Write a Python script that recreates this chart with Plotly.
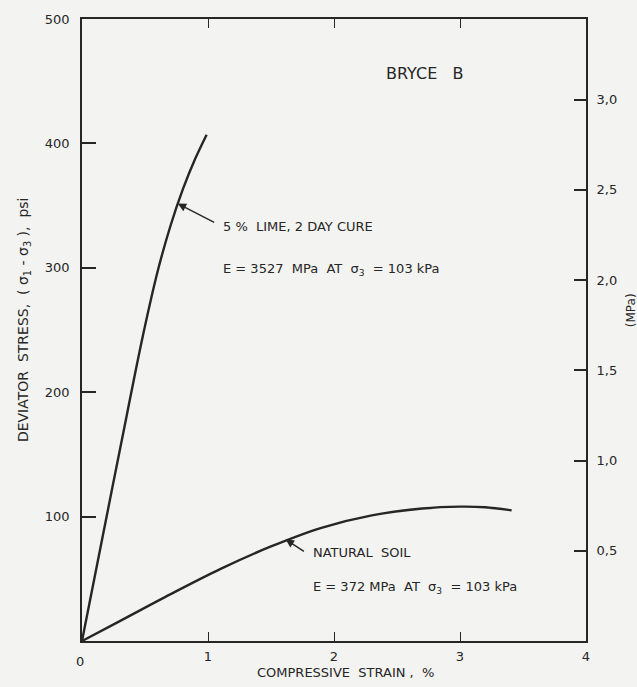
import plotly.graph_objects as go

# Data (strain %, deviator stress psi)
lime_strain = [0, 0.164, 0.319, 0.474, 0.60, 0.70, 0.80, 0.90, 0.989]
lime_stress = [0, 84, 163, 241, 297, 333, 363, 388, 407]

soil_strain = [0, 0.30, 0.70, 1.10, 1.50, 1.90, 2.30, 2.70, 3.00, 3.20, 3.41]
soil_stress = [0, 16, 37.5, 58, 76, 91, 101, 106.5, 108, 107.5, 105]

x_ticks = [1, 2, 3, 4]
y_ticks = [100, 200, 300, 400, 500]
mpa_ticks = [0.5, 1.0, 1.5, 2.0, 2.5, 3.0]
mpa_labels = ["0,5", "1,0", "1,5", "2,0", "2,5", "3,0"]
PSI_PER_MPA = 145.038

INK = "#262626"
BG = "#f3f3f1"
FONT = "DejaVu Sans"

fig = go.Figure()
fig.add_trace(go.Scatter(x=lime_strain, y=lime_stress, mode="lines",
                         line=dict(color=INK, width=2.4, shape="spline", smoothing=0.8),
                         showlegend=False, hoverinfo="skip"))
fig.add_trace(go.Scatter(x=soil_strain, y=soil_stress, mode="lines",
                         line=dict(color=INK, width=2.4, shape="spline", smoothing=0.9),
                         showlegend=False, hoverinfo="skip"))
# invisible trace to activate right axis
fig.add_trace(go.Scatter(x=[0], y=[0], yaxis="y2", mode="markers",
                         marker=dict(opacity=0), showlegend=False, hoverinfo="skip"))

fig.update_layout(
    width=637, height=687,
    margin=dict(l=82, r=51, t=13, b=46),
    paper_bgcolor=BG, plot_bgcolor=BG,
    font=dict(family=FONT, color=INK, size=13),
    xaxis=dict(range=[0, 4], tickvals=x_ticks, ticktext=[str(v) for v in x_ticks],
               showline=True, linecolor=INK, linewidth=1.8, mirror="ticks",
               ticks="inside", ticklen=9, tickwidth=1.3, tickcolor=INK,
               showgrid=False, zeroline=False, tickfont=dict(size=13),
               ticklabelstandoff=2),
    yaxis=dict(range=[0, 500], tickvals=y_ticks, ticktext=[str(v) for v in y_ticks],
               showline=True, linecolor=INK, linewidth=1.8, mirror=False,
               ticks="inside", ticklen=14, tickwidth=1.5, tickcolor=INK,
               showgrid=False, zeroline=False, tickfont=dict(size=13),
               ticklabelstandoff=8),
    yaxis2=dict(range=[0, 500 / PSI_PER_MPA], overlaying="y", side="right",
                tickvals=mpa_ticks, ticktext=mpa_labels,
                showline=True, linecolor=INK, linewidth=1.8,
                ticks="inside", ticklen=12, tickwidth=1.5, tickcolor=INK,
                showgrid=False, zeroline=False, tickfont=dict(size=13),
                ticklabelstandoff=6),
)

ann_font = dict(family=FONT, size=13, color=INK)
anns = [
    dict(x=2.72, y=456, text="BRYCE   B", showarrow=False, xanchor="center",
         font=dict(family=FONT, size=16, color=INK)),
    dict(x=1.10, y=333.4, text="5 %  LIME, 2 DAY CURE", showarrow=False,
         xanchor="left", font=ann_font),
    dict(x=1.105, y=299, text="E = 3527  MPa  AT  σ<sub>3</sub>  = 103 kPa",
         showarrow=False, xanchor="left", font=ann_font),
    dict(x=1.82, y=71, text="NATURAL  SOIL", showarrow=False,
         xanchor="left", font=ann_font),
    dict(x=1.82, y=43, text="E = 372 MPa  AT  σ<sub>3</sub>  = 103 kPa",
         showarrow=False, xanchor="left", font=ann_font),
    # arrows
    dict(x=0.76, y=351.6, ax=1.061, ay=336, axref="x", ayref="y", text="",
         showarrow=True, arrowhead=2, arrowsize=1.2, arrowwidth=1.4, arrowcolor=INK),
    dict(x=1.616, y=81.7, ax=1.773, ay=71.2, axref="x", ayref="y", text="",
         showarrow=True, arrowhead=2, arrowsize=1.2, arrowwidth=1.4, arrowcolor=INK),
    # origin label
    dict(x=(80 - 82) / 504, y=(641 - 662) / 628, xref="paper", yref="paper",
         xanchor="center", yanchor="middle", text="0", showarrow=False,
         font=dict(family=FONT, size=13, color=INK)),
    # axis titles
    dict(x=(24 - 82) / 504, y=(641 - 317) / 628, xref="paper", yref="paper",
         textangle=-90, xanchor="center", yanchor="middle",
         text="DEVIATOR  STRESS,  ( σ<sub>1</sub> - σ<sub>3</sub> ),  psi",
         showarrow=False, font=dict(family=FONT, size=14, color=INK)),
    dict(x=(345 - 82) / 504, y=(641 - 673) / 628, xref="paper", yref="paper",
         xanchor="center", yanchor="middle",
         text="COMPRESSIVE  STRAIN ,  %", showarrow=False,
         font=dict(family=FONT, size=13, color=INK)),
    dict(x=(631 - 82) / 504, y=(641 - 307) / 628, xref="paper", yref="paper",
         textangle=-90, xanchor="center", yanchor="middle",
         text="(MPa)", showarrow=False, font=dict(family=FONT, size=12, color=INK)),
]
fig.update_layout(annotations=anns)

fig.write_html("out.html")
